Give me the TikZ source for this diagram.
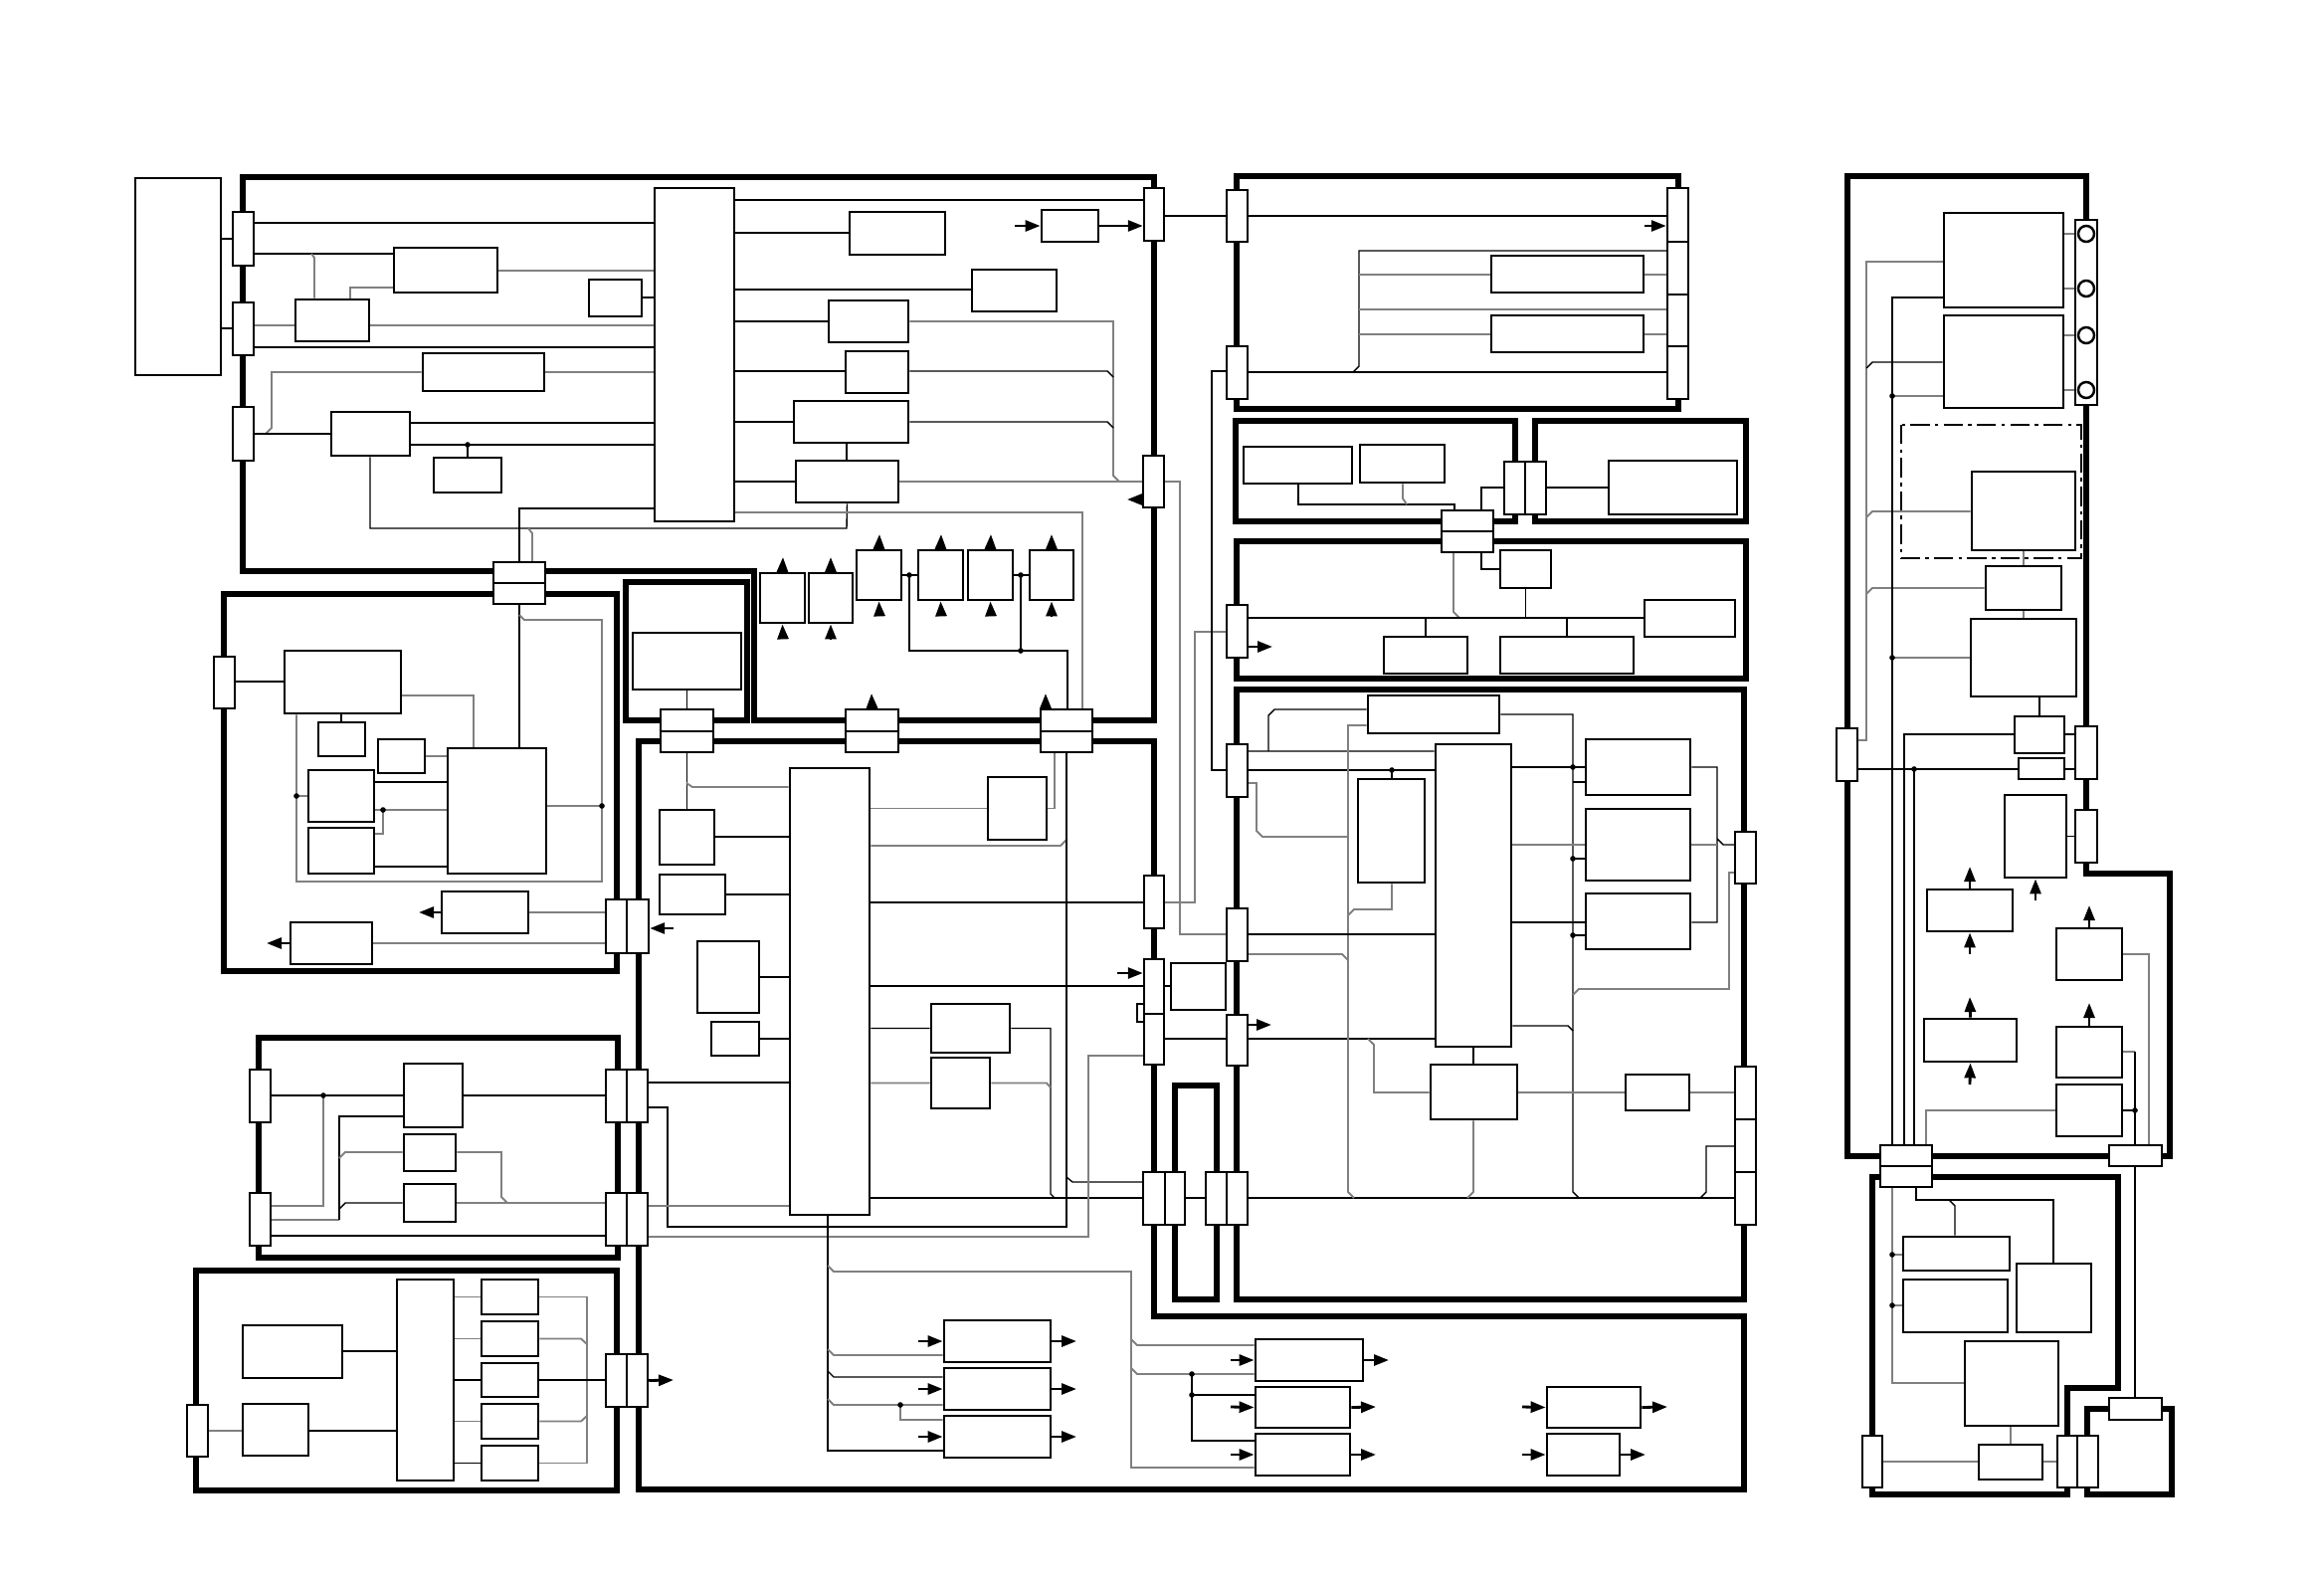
\documentclass[tikz,border=0pt]{standalone}
\usetikzlibrary{arrows.meta,fit,backgrounds}
\newcommand{\mkbox}[6][box]{\node[#1,fit={(#3,#4) (#5,#6)}] (#2) {};}

\begin{document}
\begin{tikzpicture}[x=0.01cm,y=-0.01cm,
  box/.style={draw,fill=white,inner sep=0pt,line width=.8pt},
  conn/.style={draw,fill=white,inner sep=0pt,line width=.7pt},
  block/.style={line width=1.6pt,line join=miter},
  wire/.style={line width=.4pt},
  gwire/.style={line width=.55pt,black!50},
  arr/.style={line width=.8pt,-{Triangle[length=1.5mm,width=1.1mm]}},
  chain/.style={line width=.8pt,dash pattern=on 5.5pt off 1.5pt on 1pt off 1.5pt},
  hole/.style={circle,draw,fill=white,line width=.7pt,inner sep=0pt,minimum size=1.6mm}]
\useasboundingbox (0,0) rectangle (2336,1588);

\begin{pgfonlayer}{background}
\draw[block] (244,178) -- (1160,178) -- (1160,724) -- (758,724) -- (758,574) -- (244,574) -- cycle;
\draw[block] (629,585) rectangle (751,724);
\draw[block] (225,597) rectangle (620,976);
\draw[block] (260,1043) rectangle (621,1264);
\draw[block] (197,1277) rectangle (620,1498);
\draw[block] (642,745) -- (1160,745) -- (1160,1323) -- (1753,1323) -- (1753,1497) -- (642,1497) -- cycle;
\draw[block] (1181,1091) rectangle (1223,1306);
\draw[block] (1243,177) rectangle (1687,411);
\draw[block] (1242,423) rectangle (1523,524);
\draw[block] (1543,423) rectangle (1755,524);
\draw[block] (1243,544) rectangle (1755,682);
\draw[block] (1243,693) rectangle (1753,1306);
\draw[block] (1857,177) -- (2097,177) -- (2097,878) -- (2181,878) -- (2181,1162) -- (1857,1162) -- cycle;
\draw[block] (1882,1183) -- (2129,1183) -- (2129,1395) -- (2078,1395) -- (2078,1502) -- (1882,1502) -- cycle;
\draw[block] (2098,1416) rectangle (2183,1502);
\draw[chain] (1911,427) rectangle (2092,561);
\end{pgfonlayer}

% upper left unit
\mkbox{ext}{136}{179}{222}{377}
\mkbox[conn]{j1}{234}{213}{255}{267}
\mkbox[conn]{j2}{234}{304}{255}{357}
\mkbox[conn]{j3}{234}{409}{255}{463}
\mkbox{cpuA}{658}{189}{738}{524}
\mkbox{b1}{396}{249}{500}{294}
\mkbox{b2}{592}{281}{645}{318}
\mkbox{b3}{297}{301}{371}{343}
\mkbox{b4}{425}{355}{547}{393}
\mkbox{b5}{333}{414}{412}{458}
\mkbox{b6}{436}{460}{504}{495}
\mkbox{c1}{854}{213}{950}{256}
\mkbox{c2}{1047}{211}{1104}{243}
\mkbox{c3}{977}{271}{1062}{313}
\mkbox{c4}{833}{302}{913}{344}
\mkbox{c5}{850}{353}{913}{395}
\mkbox{c6}{798}{403}{913}{445}
\mkbox{c7}{800}{463}{903}{505}
\mkbox[conn]{k1}{1150}{189}{1170}{242}
\mkbox[conn]{k2}{1149}{458}{1170}{510}
\mkbox[conn]{jaT}{496}{565}{548}{586}
\mkbox[conn]{jaB}{496}{586}{548}{607}
\mkbox{d1}{764}{576}{809}{626}
\mkbox{d2}{813}{576}{857}{626}
\mkbox{d3}{861}{553}{906}{603}
\mkbox{d4}{923}{553}{968}{603}
\mkbox{d5}{973}{553}{1018}{603}
\mkbox{d6}{1035}{553}{1079}{603}
\mkbox{e1}{636}{636}{745}{693}
\mkbox[conn]{l1T}{664}{713}{717}{735}
\mkbox[conn]{l1B}{664}{735}{717}{756}
\mkbox[conn]{l2T}{850}{713}{903}{735}
\mkbox[conn]{l2B}{850}{735}{903}{756}
\mkbox[conn]{l3T}{1046}{713}{1098}{735}
\mkbox[conn]{l3B}{1046}{735}{1098}{756}

% left units
\mkbox[conn]{f1l}{215}{660}{236}{712}
\mkbox{f1a}{286}{654}{403}{717}
\mkbox{f1b}{320}{726}{367}{760}
\mkbox{f1c}{380}{743}{427}{777}
\mkbox{f1d}{310}{774}{376}{826}
\mkbox{f1e}{310}{832}{376}{878}
\mkbox{f1f}{450}{752}{549}{878}
\mkbox{f1g}{444}{896}{531}{938}
\mkbox{f1h}{292}{927}{374}{969}
\mkbox[conn]{jbA}{609}{904}{630}{958}
\mkbox[conn]{jbB}{630}{904}{652}{958}
\mkbox[conn]{f2l1}{251}{1075}{272}{1128}
\mkbox[conn]{f2l2}{251}{1199}{272}{1252}
\mkbox{f2a}{406}{1069}{465}{1133}
\mkbox{f2b}{406}{1140}{458}{1177}
\mkbox{f2c}{406}{1190}{458}{1228}
\mkbox[conn]{q1a}{609}{1075}{630}{1128}
\mkbox[conn]{q1b}{630}{1075}{651}{1128}
\mkbox[conn]{q2a}{609}{1199}{630}{1252}
\mkbox[conn]{q2b}{630}{1199}{651}{1252}
\mkbox[conn]{f3l}{188}{1412}{209}{1464}
\mkbox{f3a}{244}{1332}{344}{1385}
\mkbox{f3b}{244}{1411}{310}{1463}
\mkbox{f3c}{399}{1286}{456}{1488}
\mkbox{f3d}{484}{1286}{541}{1321}
\mkbox{f3e}{484}{1328}{541}{1363}
\mkbox{f3f}{484}{1370}{541}{1404}
\mkbox{f3g}{484}{1411}{541}{1446}
\mkbox{f3h}{484}{1453}{541}{1488}
\mkbox[conn]{q3a}{609}{1361}{630}{1414}
\mkbox[conn]{q3b}{630}{1361}{651}{1414}

% centre unit
\mkbox{cpuC}{794}{772}{874}{1221}
\mkbox{g1}{663}{814}{718}{869}
\mkbox{g2}{663}{879}{729}{919}
\mkbox{g3}{701}{946}{763}{1018}
\mkbox{g4}{993}{781}{1052}{844}
\mkbox{g5}{715}{1027}{763}{1061}
\mkbox{g6}{936}{1009}{1015}{1058}
\mkbox{g7}{936}{1063}{995}{1114}
\mkbox{ga}{949}{1327}{1056}{1369}
\mkbox{gb}{949}{1375}{1056}{1417}
\mkbox{gc}{949}{1423}{1056}{1465}
\mkbox[conn]{k3}{1150}{880}{1170}{933}
\mkbox[conn]{k6}{1150}{964}{1170}{1019}
\mkbox[conn]{k6s}{1143}{1009}{1150}{1027}
\mkbox[conn]{k5}{1150}{1019}{1170}{1070}
\mkbox{h1}{1177}{968}{1232}{1015}
\mkbox[conn]{p1a}{1149}{1178}{1171}{1231}
\mkbox[conn]{p1b}{1171}{1178}{1191}{1231}
\mkbox[conn]{p2a}{1212}{1178}{1233}{1231}
\mkbox[conn]{p2b}{1233}{1178}{1254}{1231}
\mkbox{ta}{1262}{1346}{1370}{1388}
\mkbox{tb}{1262}{1394}{1357}{1435}
\mkbox{tc}{1262}{1441}{1357}{1483}
\mkbox{td}{1555}{1394}{1649}{1435}
\mkbox{te}{1555}{1441}{1628}{1483}

% right units
\mkbox[conn]{k1p}{1233}{191}{1254}{243}
\mkbox[conn]{k4}{1233}{348}{1254}{401}
\mkbox[conn]{st1}{1676}{189}{1697}{243}
\mkbox[conn]{st2}{1676}{243}{1697}{296}
\mkbox[conn]{st3}{1676}{296}{1697}{348}
\mkbox[conn]{st4}{1676}{348}{1697}{401}
\mkbox{r1a}{1499}{257}{1652}{294}
\mkbox{r1b}{1499}{317}{1652}{354}
\mkbox{r2a}{1250}{449}{1359}{486}
\mkbox{r2b}{1367}{447}{1452}{485}
\mkbox[conn]{m1T}{1449}{513}{1501}{534}
\mkbox[conn]{m1B}{1449}{534}{1501}{555}
\mkbox[conn]{m2a}{1512}{464}{1533}{517}
\mkbox[conn]{m2b}{1533}{464}{1554}{517}
\mkbox{r3a}{1617}{463}{1746}{517}
\mkbox[conn]{m3}{1233}{608}{1254}{661}
\mkbox{r4a}{1508}{553}{1559}{591}
\mkbox{r4b}{1391}{640}{1475}{677}
\mkbox{r4c}{1508}{640}{1642}{677}
\mkbox{r4d}{1653}{603}{1744}{640}
\mkbox[conn]{m4}{1233}{748}{1254}{801}
\mkbox[conn]{m5}{1233}{913}{1254}{966}
\mkbox[conn]{m7}{1233}{1020}{1254}{1071}
\mkbox{cpuR}{1443}{748}{1519}{1052}
\mkbox{r5a}{1375}{699}{1507}{737}
\mkbox{r5b}{1365}{783}{1432}{887}
\mkbox{r5c}{1594}{743}{1699}{799}
\mkbox{r5d}{1594}{813}{1699}{885}
\mkbox{r5e}{1594}{898}{1699}{954}
\mkbox{r5g}{1438}{1070}{1525}{1125}
\mkbox{r5h}{1634}{1080}{1698}{1116}
\mkbox[conn]{m6}{1744}{836}{1765}{888}
\mkbox[conn]{n1}{1744}{1072}{1765}{1125}
\mkbox[conn]{n2}{1744}{1125}{1765}{1178}
\mkbox[conn]{n3}{1744}{1178}{1765}{1231}

% far right units
\mkbox{v1}{1954}{214}{2074}{309}
\mkbox{v2}{1954}{317}{2074}{410}
\mkbox[conn]{strip}{2086}{221}{2108}{407}
\node[hole] (cc1) at (2097,235) {};
\node[hole] (cc2) at (2097,290) {};
\node[hole] (cc3) at (2097,337) {};
\node[hole] (cc4) at (2097,392) {};
\mkbox{v3}{1982}{474}{2086}{553}
\mkbox{v4}{1996}{569}{2072}{613}
\mkbox{v5}{1981}{622}{2087}{700}
\mkbox{v6}{2025}{720}{2075}{757}
\mkbox[conn]{v7}{2029}{762}{2075}{783}
\mkbox[conn]{w0}{1846}{732}{1867}{785}
\mkbox[conn]{w1}{2086}{730}{2108}{783}
\mkbox[conn]{w2}{2086}{814}{2108}{867}
\mkbox{v8}{2015}{799}{2077}{882}
\mkbox{v9}{1937}{894}{2023}{936}
\mkbox{v10}{2067}{933}{2133}{985}
\mkbox{v11}{1934}{1024}{2027}{1067}
\mkbox{v12}{2067}{1032}{2133}{1083}
\mkbox{v13}{2067}{1090}{2133}{1142}
\mkbox[conn]{x1T}{1890}{1151}{1942}{1172}
\mkbox[conn]{x1B}{1890}{1172}{1942}{1193}
\mkbox[conn]{x2}{2120}{1151}{2173}{1172}
\mkbox[conn]{x3}{2120}{1405}{2173}{1427}
\mkbox{u1}{1913}{1243}{2020}{1277}
\mkbox{u2}{1913}{1286}{2018}{1339}
\mkbox{u3}{2027}{1270}{2102}{1339}
\mkbox{u4}{1975}{1348}{2069}{1433}
\mkbox{u5}{1989}{1452}{2053}{1487}
\mkbox[conn]{z1}{1872}{1443}{1892}{1495}
\mkbox[conn]{z2a}{2068}{1443}{2088}{1495}
\mkbox[conn]{z2b}{2088}{1443}{2109}{1495}

\begin{pgfonlayer}{background}
\draw[wire] (ext.east|-0,240) -- (j1.west|-0,240) (ext.east|-0,330) -- (j2.west|-0,330);
\draw[wire] (j1.east|-0,224) -- (cpuA.west|-0,224);
\draw[wire] (j1.east|-0,255) -- (b1.west|-0,255);
\draw[gwire] (313,255) -- (316,259) -- (316,0|-b3.north);
\draw[gwire] (352,0|-b3.north) -- (352,289) -- (b1.west|-0,289);
\draw[gwire] (b1.east|-0,272) -- (cpuA.west|-0,272);
\draw[wire] (b2.east|-0,299) -- (cpuA.west|-0,299);
\draw[gwire] (j2.east|-0,327) -- (b3.west|-0,327) (b3.east|-0,327) -- (cpuA.west|-0,327);
\draw[wire] (j2.east|-0,349) -- (cpuA.west|-0,349);
\draw[gwire] (b4.east|-0,374) -- (cpuA.west|-0,374);
\draw[gwire] (b4.west|-0,374) -- (273,374) -- (273,430) -- (267,436);
\draw[wire] (j3.east|-0,436) -- (b5.west|-0,436);
\draw[wire] (b5.east|-0,425) -- (cpuA.west|-0,425);
\draw[wire] (b5.east|-0,447) -- (cpuA.west|-0,447) (470,447) -- (b6.north);
\draw[wire] (372,0|-b5.south) -- (372,531) -- (851,531) -- (c7.south);
\draw[wire] (cpuA.west|-0,511) -- (522,511) -- (522,0|-jaT.north);
\draw[gwire] (531,531) -- (535,536) -- (535,0|-jaT.north);
\draw[wire] (cpuA.east|-0,201) -- (k1.west|-0,201);
\draw[wire] (cpuA.east|-0,234) -- (c1.west|-0,234);
\draw[wire] (cpuA.east|-0,291) -- (c3.west|-0,291);
\draw[wire] (cpuA.east|-0,323) -- (c4.west|-0,323);
\draw[wire] (cpuA.east|-0,373) -- (c5.west|-0,373);
\draw[wire] (cpuA.east|-0,424) -- (c6.west|-0,424);
\draw[wire] (cpuA.east|-0,484) -- (c7.west|-0,484);
\draw[wire] (c6.south-|851,0) -- (c7.north-|851,0);
\draw[gwire] (c4.east|-0,323) -- (1119,323) -- (1119,478) -- (1125,484);
\draw[wire] (c5.east|-0,373) -- (1113,373) -- (1119,379);
\draw[wire] (c6.east|-0,424) -- (1113,424) -- (1119,430);
\draw[gwire] (c7.east|-0,484) -- (k2.west|-0,484) (k2.east|-0,484) -- (1186,484) -- (1186,939) -- (m5.west|-0,939);
\draw[gwire] (cpuA.east|-0,515) -- (1088,515) -- (1088,0|-l3T.north);
\draw[wire] (k1.east|-0,217) -- (k1p.west|-0,217) (k1p.east|-0,217) -- (st1.west|-0,217);
\draw[wire] (d3.east|-0,578) -- (d4.west|-0,578) (d5.east|-0,578) -- (d6.west|-0,578);
\draw[wire] (914,578) -- (914,654) -- (1073,654) -- (1073,0|-l3T.north) (1026,578) -- (1026,654);
\draw[wire] (e1.south) -- (l1T.north);

\draw[wire] (f1l.east|-0,685) -- (f1a.west|-0,685);
\draw[wire] (f1a.south-|343,0) -- (f1b.north-|343,0);
\draw[gwire] (f1a.east|-0,699) -- (476,699) -- (476,0|-f1f.north);
\draw[wire] (522,0|-jaB.south) -- (522,0|-f1f.north);
\draw[gwire] (522,618) -- (527,623) -- (605,623) -- (605,886) -- (298,886) -- (298,0|-f1a.south);
\draw[gwire] (298,800) -- (f1d.west|-0,800);
\draw[gwire] (f1c.east|-0,760) -- (f1f.west|-0,760);
\draw[wire] (f1d.east|-0,786) -- (f1f.west|-0,786);
\draw[gwire] (f1d.east|-0,814) -- (f1f.west|-0,814) (385,814) -- (385,838) -- (f1e.east|-0,838);
\draw[wire] (f1e.east|-0,871) -- (f1f.west|-0,871);
\draw[gwire] (f1f.east|-0,810) -- (605,810);
\draw[gwire] (f1g.east) -- (jbA.west|-f1g.east) (f1h.east) -- (jbA.west|-f1h.east);

\draw[wire] (f2l1.east|-0,1101) -- (f2a.west|-0,1101) (f2a.east|-0,1101) -- (q1a.west|-0,1101);
\draw[gwire] (325,1101) -- (325,1212) -- (f2l2.east|-0,1212);
\draw[gwire] (f2l2.east|-0,1226) -- (341,1226);
\draw[wire] (341,1226) -- (341,1122) -- (f2a.west|-0,1122);
\draw[gwire] (341,1164) -- (347,1158) -- (f2b.west|-0,1158);
\draw[wire] (341,1215) -- (347,1209) -- (f2c.west|-0,1209);
\draw[gwire] (f2b.east|-0,1158) -- (504,1158) -- (504,1203) -- (510,1209);
\draw[gwire] (f2c.east|-0,1209) -- (q2a.west|-0,1209);
\draw[wire] (f2l2.east|-0,1242) -- (q2a.west|-0,1242);

\draw[gwire] (f3l.east|-0,1438) -- (f3b.west|-0,1438);
\draw[wire] (f3b.east|-0,1438) -- (f3c.west|-0,1438) (f3a.east|-0,1358) -- (f3c.west|-0,1358);
\draw[gwire] (f3c.east|-f3d.west) -- (f3d.west) (f3c.east|-f3e.west) -- (f3e.west) (f3c.east|-f3g.west) -- (f3g.west);
\draw[wire] (f3c.east|-f3f.west) -- (f3f.west) (f3c.east|-f3h.west) -- (f3h.west);
\draw[gwire] (f3d.east) -- (590,0|-f3d.east) -- (590,0|-f3h.east) -- (f3h.east);
\draw[gwire] (f3e.east) -- (584,0|-f3e.east) -- (590,1351) (f3g.east) -- (584,0|-f3g.east) -- (590,1423);
\draw[wire] (f3f.east) -- (q3a.west|-f3f.east);

\draw[wire] (l1B.south) -- (g1.north);
\draw[gwire] (690,787) -- (696,791) -- (cpuC.west|-0,791);
\draw[wire] (g1.east|-0,841) -- (cpuC.west|-0,841);
\draw[wire] (g2.east) -- (cpuC.west|-g2.east) (g3.east) -- (cpuC.west|-g3.east) (g5.east) -- (cpuC.west|-g5.east);
\draw[gwire] (cpuC.east|-g4.west) -- (g4.west) (g4.east) -- (1060,0|-g4.east) -- (1060,0|-l3B.south);
\draw[gwire] (cpuC.east|-0,850) -- (1066,850) -- (1072,844);
\draw[wire] (1072,0|-l3B.south) -- (1072,1233) -- (671,1233) -- (671,1113) -- (q1b.east|-0,1113);
\draw[wire] (1072,1183) -- (1078,1188) -- (p1a.west|-0,1188);
\draw[wire] (cpuC.east|-0,907) -- (k3.west|-0,907);
\draw[gwire] (k3.east|-0,907) -- (1201,907) -- (1201,635) -- (m3.west|-0,635);
\draw[wire] (cpuC.east|-0,991) -- (k6.west|-0,991) (k6.east|-0,991) -- (h1.west|-0,991);
\draw[wire] (cpuC.east|-g6.west) -- (g6.west) (g6.east) -- (1056,0|-g6.east) -- (1056,1200) -- (1060,1204);
\draw[gwire] (cpuC.east|-g7.west) -- (g7.west) (g7.east) -- (1052,0|-g7.east) -- (1056,1093);
\draw[wire] (cpuC.east|-0,1204) -- (p1a.west|-0,1204) (p1b.east|-0,1204) -- (p2a.west|-0,1204) (p2b.east|-0,1204) -- (n3.west|-0,1204);
\draw[wire] (q1b.east|-0,1088) -- (cpuC.west|-0,1088);
\draw[gwire] (q2b.east|-0,1212) -- (cpuC.west|-0,1212);
\draw[gwire] (q2b.east|-0,1243) -- (1094,1243) -- (1094,1061) -- (k5.west|-0,1061);
\draw[wire] (k5.east|-0,1044) -- (m7.west|-0,1044) (m7.east|-0,1044) -- (cpuR.west|-0,1044);
\draw[wire] (832,0|-cpuC.south) -- (832,1458) -- (gc.west|-0,1458);
\draw[gwire] (832,1272) -- (838,1278) -- (1137,1278) -- (1137,1475) -- (tc.west|-0,1475);
\draw[gwire] (1137,1346) -- (1143,1352) -- (ta.west|-0,1352) (1137,1375) -- (1143,1381) -- (ta.west|-0,1381);
\draw[wire] (1198,1381) -- (1198,1448) -- (tc.west|-0,1448) (1198,1402) -- (tb.west|-0,1402);
\draw[gwire] (832,1356) -- (838,1362) -- (ga.west|-0,1362);
\draw[wire] (832,1378) -- (838,1384) -- (gb.west|-0,1384);
\draw[gwire] (832,1406) -- (838,1412) -- (gb.west|-0,1412) (905,1412) -- (905,1427) -- (gc.west|-0,1427);

\draw[wire] (k4.east|-0,374) -- (st4.west|-0,374);
\draw[wire] (1360,374) -- (1366,368) -- (1366,252) -- (st2.west|-0,252);
\draw[gwire] (1366,276) -- (r1a.west|-0,276) (r1a.east|-0,276) -- (st2.west|-0,276);
\draw[gwire] (1366,311) -- (st3.west|-0,311);
\draw[gwire] (1366,336) -- (r1b.west|-0,336) (r1b.east|-0,336) -- (st3.west|-0,336);
\draw[wire] (k4.west|-0,373) -- (1218,373) -- (1218,774) -- (m4.west|-0,774);
\draw[wire] (r2a.south-|1305,0) -- (1305,507) -- (1462,507) -- (1462,0|-m1T.north);
\draw[gwire] (r2b.south-|1410,0) -- (1410,501) -- (1414,507);
\draw[wire] (1489,0|-m1T.north) -- (1489,490) -- (m2a.west|-0,490) (m2b.east|-0,490) -- (r3a.west|-0,490);
\draw[gwire] (1461,0|-m1B.south) -- (1461,615) -- (1467,621);
\draw[wire] (1489,0|-m1B.south) -- (1489,572) -- (r4a.west|-0,572);
\draw[wire] (r4a.south) -- (r4a.south|-0,621);
\draw[wire] (m3.east|-0,621) -- (r4d.west|-0,621);
\draw[wire] (r4b.north) -- (r4b.north|-0,621) (r4c.north) -- (r4c.north|-0,621);

\draw[wire] (m4.east|-0,755) -- (cpuR.west|-0,755) (1275,755) -- (1275,719) -- (1281,713) -- (r5a.west|-0,713);
\draw[wire] (m4.east|-0,774) -- (cpuR.west|-0,774) (1399,774) -- (r5b.north-|1399,0);
\draw[gwire] (r5a.west|-0,729) -- (1355,729) -- (1355,1198) -- (1361,1204);
\draw[gwire] (m4.east|-0,787) -- (1263,787) -- (1263,835) -- (1269,841) -- (1355,841);
\draw[gwire] (r5b.south-|1399,0) -- (1399,914) -- (1361,914) -- (1355,920);
\draw[wire] (m5.east|-0,939) -- (cpuR.west|-0,939);
\draw[gwire] (m5.east|-0,959) -- (1349,959) -- (1355,965);
\draw[wire] (r5a.east|-0,718) -- (1581,718) -- (1581,1198) -- (1587,1204);
\draw[wire] (cpuR.east|-0,771) -- (r5c.west|-0,771) (r5c.west|-0,786) -- (1581,786);
\draw[wire] (1581,863) -- (r5d.west|-0,863) (1581,940) -- (r5e.west|-0,940);
\draw[gwire] (cpuR.east|-0,849) -- (r5d.west|-0,849);
\draw[wire] (cpuR.east|-0,927) -- (r5e.west|-0,927);
\draw[wire] (r5c.east|-0,771) -- (1726,771) -- (1726,927) -- (r5e.east|-0,927) (1726,843) -- (1732,849) -- (m6.west|-0,849);
\draw[gwire] (r5d.east|-0,849) -- (1726,849);
\draw[gwire] (m6.west|-0,877) -- (1738,877) -- (1738,994) -- (1587,994) -- (1581,1000);
\draw[wire] (cpuR.south-|1481,0) -- (r5g.north-|1481,0);
\draw[gwire] (1375,1044) -- (1381,1050) -- (1381,1098) -- (r5g.west|-0,1098);
\draw[gwire] (r5g.east|-0,1098) -- (r5h.west|-0,1098) (r5h.east|-0,1098) -- (n1.west|-0,1098);
\draw[gwire] (r5g.south-|1481,0) -- (1481,1198) -- (1475,1204);
\draw[wire] (cpuR.east|-0,1031) -- (1576,1031) -- (1581,1036);
\draw[wire] (n2.west|-0,1152) -- (1715,1152) -- (1715,1198) -- (1709,1204);

\draw[gwire] (v1.east|-cc1) -- (cc1.west) (v1.east|-cc2) -- (cc2.west) (v2.east|-cc3) -- (cc3.west) (v2.east|-cc4) -- (cc4.west);
\draw[gwire] (v1.west|-0,263) -- (1876,263) -- (1876,744) -- (w0.east|-0,744);
\draw[wire] (1876,370) -- (1882,364) -- (v2.west|-0,364);
\draw[gwire] (1876,520) -- (1882,514) -- (v3.west|-0,514) (1876,597) -- (1882,591) -- (v4.west|-0,591);
\draw[wire] (v1.west|-0,299) -- (1902,299) -- (1902,0|-x1T.north);
\draw[gwire] (1902,398) -- (v2.west|-0,398) (1902,661) -- (v5.west|-0,661);
\draw[gwire] (v3.south-|2034,0) -- (v4.north-|2034,0) (v4.south-|2034,0) -- (v5.north-|2034,0);
\draw[wire] (v5.south-|2050,0) -- (v6.north-|2050,0);
\draw[wire] (v6.east|-0,738) -- (w1.west|-0,738) (v7.east|-0,773) -- (w1.west|-0,773);
\draw[wire] (w0.east|-0,773) -- (v7.west|-0,773) (1924,773) -- (1924,0|-x1T.north);
\draw[wire] (v6.west|-0,738) -- (1914,738) -- (1914,0|-x1T.north);
\draw[wire] (v8.east|-w2.west) -- (w2.west);
\draw[gwire] (v10.east|-0,959) -- (2160,959) -- (2160,1162);
\draw[gwire] (v12.east|-0,1057) -- (2146,1057);
\draw[wire] (v13.east|-0,1116) -- (2146,1116) (2146,1057) -- (2146,0|-x3.north);
\draw[gwire] (v13.west|-0,1116) -- (1936,1116) -- (1936,0|-x1T.north);
\draw[gwire] (1902,0|-x1B.south) -- (1902,1390) -- (u4.west|-0,1390);
\draw[gwire] (1902,1261) -- (u1.west|-0,1261) (1902,1312) -- (u2.west|-0,1312);
\draw[wire] (1926,0|-x1B.south) -- (1926,1206) -- (2064,1206) -- (2064,0|-u3.north);
\draw[wire] (1959,1206) -- (1965,1212) -- (1965,0|-u1.north);
\draw[gwire] (u4.south-|2021,0) -- (u5.north-|2021,0);
\draw[gwire] (z1.east|-0,1469) -- (u5.west|-0,1469) (u5.east|-0,1469) -- (z2a.west|-0,1469);
\end{pgfonlayer}

\draw[arr] (1020,227) -- (c2.west|-0,227);
\draw[arr] (c2.east|-0,227) -- (k1.west|-0,227);
\draw[arr] (k2.west|-0,502) -- (1133,502);
\draw[arr] (1653,227) -- (st1.west|-0,227);
\draw[arr] (d1.north) -- (787,560);
\draw[arr] (d2.north) -- (835,560);
\draw[arr] (787,642) -- (d1.south);
\draw[arr] (835,642) -- (d2.south);
\draw[arr] (d3.north) -- (884,537);
\draw[arr] (d4.north) -- (946,537);
\draw[arr] (d5.north) -- (996,537);
\draw[arr] (d6.north) -- (1057,537);
\draw[arr] (884,619) -- (d3.south);
\draw[arr] (946,619) -- (d4.south);
\draw[arr] (996,619) -- (d5.south);
\draw[arr] (1057,619) -- (d6.south);
\draw[arr] (l2T.north) -- (876,697);
\draw[arr] (1051,0|-l3T.north) -- (1051,697);
\draw[arr] (f1g.west) -- (421,917);
\draw[arr] (f1h.west) -- (268,948);
\draw[arr] (677,933) -- (jbB.east|-0,933);
\draw[arr] (q3b.east) -- (677,1387);
\draw[arr] (1123,978) -- (k6.west|-0,978);
\draw[arr] (m3.east|-0,650) -- (1279,650);
\draw[arr] (m7.east|-0,1030) -- (1278,1030);
\draw[arr] (923,1348) -- (ga.west);
\draw[arr] (923,1396) -- (gb.west);
\draw[arr] (923,1444) -- (gc.west);
\draw[arr] (ga.east) -- (1082,1348);
\draw[arr] (gb.east) -- (1082,1396);
\draw[arr] (gc.east) -- (1082,1444);
\draw[arr] (1237,1367) -- (ta.west);
\draw[arr] (1237,1414) -- (tb.west);
\draw[arr] (1237,1462) -- (tc.west);
\draw[arr] (ta.east) -- (1396,1367);
\draw[arr] (tb.east) -- (1383,1414);
\draw[arr] (tc.east) -- (1383,1462);
\draw[arr] (1530,1414) -- (td.west);
\draw[arr] (1530,1462) -- (te.west);
\draw[arr] (td.east) -- (1676,1414);
\draw[arr] (te.east) -- (1654,1462);
\draw[arr] (2046,905) -- (v8.south-|2046,0);
\draw[arr] (v9.north) -- (1980,871);
\draw[arr] (1980,959) -- (v9.south);
\draw[arr] (v10.north) -- (2100,910);
\draw[arr] (v11.north) -- (1980,1002);
\draw[arr] (1980,1090) -- (v11.south);
\draw[arr] (v12.north) -- (2100,1008);

\foreach \p in {(470,447),(914,578),(1026,578),(1026,654),(298,800),(385,814),(605,810),(325,1101),(905,1412),(1198,1381),(1198,1402),(1399,774),(1581,771),(1581,863),(1581,940),(1902,398),(1902,661),(1924,773),(2146,1116),(1902,1261),(1902,1312)}
  \fill \p circle (.8pt);
\end{tikzpicture}
\end{document}
